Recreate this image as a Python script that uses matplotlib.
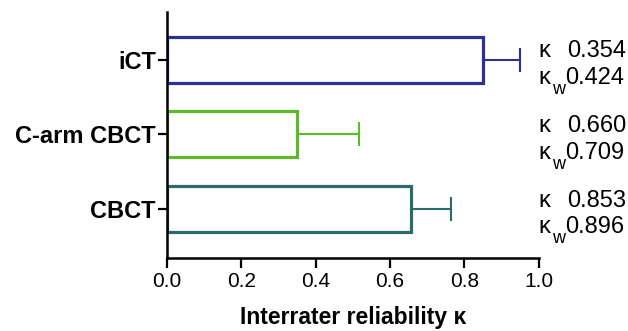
import numpy as np
import matplotlib
matplotlib.use("Agg")
import matplotlib.pyplot as plt

plt.rcParams['font.family'] = ['Liberation Sans', 'DejaVu Sans']

categories = ['CBCT', 'C-arm CBCT', 'iCT']
means = [0.655, 0.35, 0.85]
errors = [0.11, 0.165, 0.10]
colors = ['#2b6b6a', '#5dbb2a', '#2e3192']
kappa = ['0.853', '0.660', '0.354']
kappa_w = ['0.896', '0.709', '0.424']

fig = plt.figure(figsize=(6.28, 3.31), dpi=100)
ax = fig.add_axes([0.266, 0.2205, 0.592, 0.7435])

ypos = np.arange(len(categories))
for y, m, e, c in zip(ypos, means, errors, colors):
    ax.errorbar(m, y, xerr=[[0], [e]], color=c, lw=1.5, capsize=8.5,
                capthick=1.5, fmt='none', zorder=1)
    ax.barh(y, m, height=0.62, facecolor='white', edgecolor=c,
            linewidth=2.3, zorder=2)

# kappa annotations on the right
for y, k, kw in zip(ypos, kappa, kappa_w):
    ax.text(1.0, y + 0.03, '\u03ba', fontsize=17, va='baseline', ha='left',
            clip_on=False)
    ax.text(1.077, y + 0.03, k, fontsize=17, va='baseline', ha='left',
            clip_on=False)
    ax.text(1.0, y - 0.33, '\u03ba', fontsize=17, va='baseline', ha='left',
            clip_on=False)
    ax.text(1.036, y - 0.46, 'w', fontsize=13, va='baseline', ha='left',
            clip_on=False)
    ax.text(1.072, y - 0.33, kw, fontsize=17, va='baseline', ha='left',
            clip_on=False)

ax.set_xlim(0, 1.0)
ax.set_ylim(-0.66, 2.64)
ax.set_xticks([0.0, 0.2, 0.4, 0.6, 0.8, 1.0])
ax.set_xticklabels(['0.0', '0.2', '0.4', '0.6', '0.8', '1.0'])
ax.set_yticks(ypos)
ax.set_yticklabels(categories, fontsize=17, fontweight='bold')
ax.tick_params(axis='x', labelsize=15, length=7, width=1.6, pad=3)
ax.tick_params(axis='y', length=6.5, width=1.6, pad=1.5)
ax.set_xlabel('Interrater reliability \u03ba', fontsize=16.5,
              fontweight='bold', labelpad=11)

ax.spines['top'].set_visible(False)
ax.spines['right'].set_visible(False)
ax.spines['left'].set_linewidth(1.8)
ax.spines['bottom'].set_linewidth(1.8)

fig.savefig('out.png', dpi=100)
